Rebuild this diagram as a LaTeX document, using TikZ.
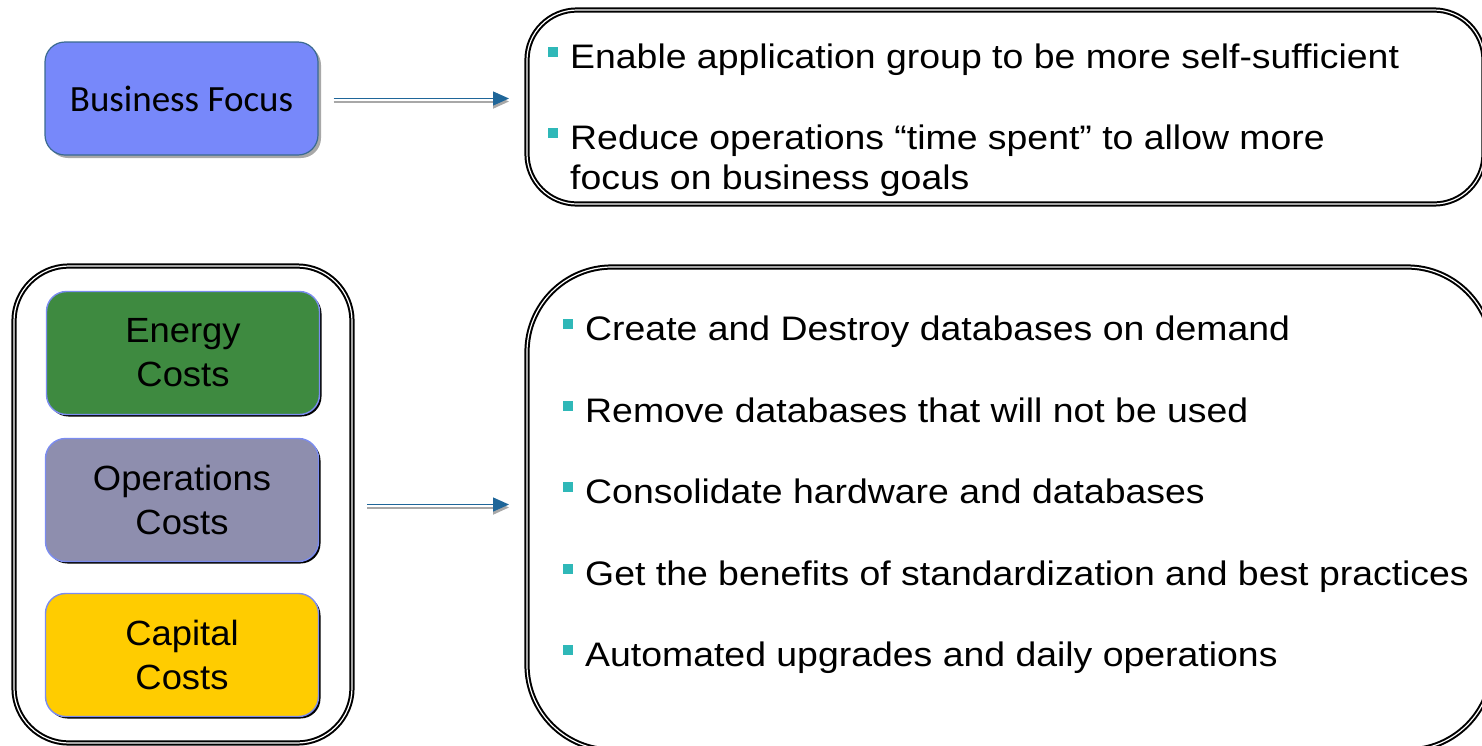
\documentclass[tikz,border=0pt]{standalone}
\usepackage{fontspec}
\setmainfont{Liberation Sans}
\newfontfamily\itemfont[FakeStretch=1.1]{Liberation Sans}
\newfontfamily\labelfont[FakeStretch=1.04]{Liberation Sans}
\newfontfamily\focusfont{Carlito}
\usetikzlibrary{arrows.meta,shadows}

\definecolor{focusblue}{HTML}{7788FA}
\definecolor{focusedge}{HTML}{3A6A90}
\definecolor{energygreen}{HTML}{3E8A40}
\definecolor{opsgray}{HTML}{8E8EAE}
\definecolor{capyellow}{HTML}{FFCC00}
\definecolor{paleedge}{HTML}{7B8CF0}
\definecolor{bulletteal}{HTML}{2FB8B8}
\definecolor{arrowblue}{HTML}{1F6699}
\definecolor{shadowgray}{HTML}{A8A8A8}

\newcommand{\bsq}{{\color{bulletteal}\rule[11pt]{10pt}{10pt}}\hspace{12pt}}

\tikzset{
  panel/.style={draw=black, line width=2pt, double=white, double distance=1.2pt,
    fill=white, inner sep=0pt},
  costbox/.style={draw=paleedge, line width=1.4pt, rounded corners=20pt,
    inner sep=0pt, minimum width=273pt, minimum height=123pt, align=center,
    font=\labelfont\fontsize{35}{44}\selectfont,
    drop shadow={shadow xshift=2pt, shadow yshift=-2pt, fill=black, opacity=1}},
  itemtext/.style={anchor=base west, inner sep=0pt,
    font=\itemfont\fontsize{34}{40}\selectfont},
  flowline/.style={draw=arrowblue, line width=1.2pt,
    -{Triangle[length=16pt,width=14pt]}},
  flowshadow/.style={draw=shadowgray, line width=2pt,
    -{Triangle[length=16pt,width=14pt]}, transform canvas={yshift=-3pt}},
}

\begin{document}
\begin{tikzpicture}[x=1pt,y=-1pt]
\useasboundingbox (0,0) rectangle (1482,745);
\clip (0,0) rectangle (1482,745);

% right-hand panels
\node[panel, rounded corners=50pt, minimum width=957pt, minimum height=194pt]
  (topbox) at (1005.5,107) {};
\node[panel, rounded corners=85pt, minimum width=965pt, minimum height=483pt]
  (botbox) at (1009.5,508.5) {};

% left-hand panel holding the three cost boxes
\node[panel, rounded corners=55pt, minimum width=338pt, minimum height=477pt]
  (leftbox) at (183,504.5) {};

\node[draw=focusedge, line width=1.2pt, fill=focusblue, rounded corners=20pt,
  minimum width=273pt, minimum height=113pt, inner sep=0pt,
  font=\focusfont\fontsize{37}{44}\selectfont,
  drop shadow={shadow xshift=3pt, shadow yshift=-3pt, fill=shadowgray, opacity=1}]
  (focus) at (181.5,98.5) {Business Focus};

\node[costbox, fill=energygreen] (energy) at (183,353) {Energy\\Costs};
\node[costbox, fill=opsgray]     (ops)    at (182,500) {Operations\\Costs};
\node[costbox, fill=capyellow]   (capital) at (182,655) {Capital\\Costs};

% connectors
\draw[flowshadow, shorten <=15pt, shorten >=17pt] (focus.east) -- (focus.east -| topbox.west);
\draw[flowline, shorten <=15pt, shorten >=17pt] (focus.east) -- (focus.east -| topbox.west);
\draw[flowshadow, shorten <=14pt, shorten >=17pt] (leftbox.east) -- (leftbox.east -| botbox.west);
\draw[flowline, shorten <=14pt, shorten >=17pt] (leftbox.east) -- (leftbox.east -| botbox.west);

% business focus items
\node[itemtext] (t1) at (548,68)  {\bsq Enable application group to be more self-sufficient};
\node[itemtext] (t2) at (548,149) {\bsq Reduce operations “time spent” to allow more};
\node[itemtext] (t3) at (570,189) {focus on business goals};

% cost items
\node[itemtext] (c1) at (563,340) {\bsq Create and Destroy databases on demand};
\node[itemtext] (c2) at (563,422) {\bsq Remove databases that will not be used};
\node[itemtext] (c3) at (563,503) {\bsq Consolidate hardware and databases};
\node[itemtext] (c4) at (563,585) {\bsq Get the benefits of standardization and best practices};
\node[itemtext] (c5) at (563,666) {\bsq Automated upgrades and daily operations};
\end{tikzpicture}
\end{document}
